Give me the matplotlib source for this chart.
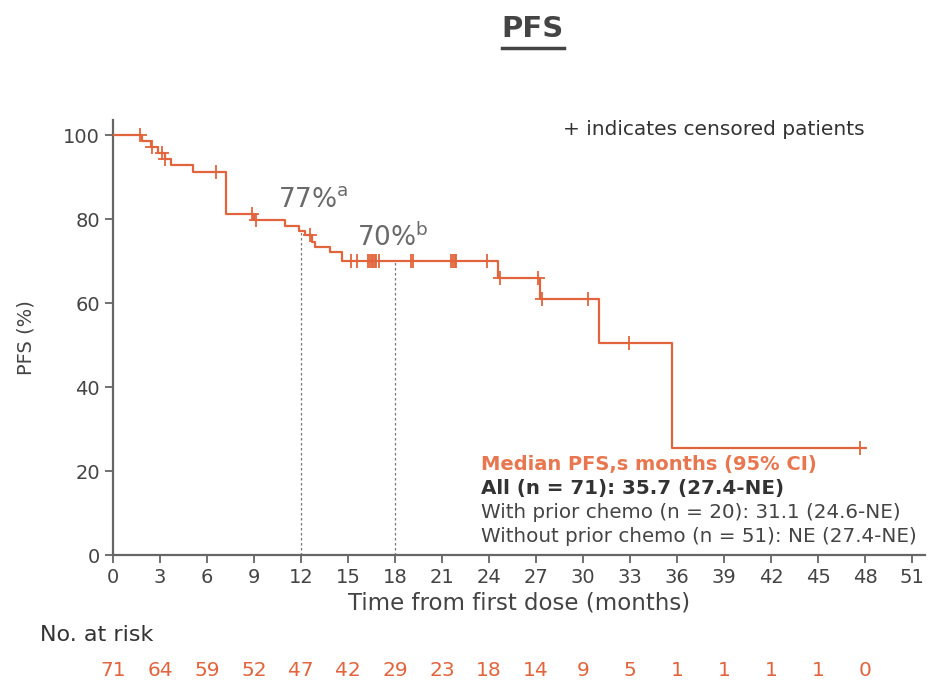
import numpy as np
import matplotlib
matplotlib.use("Agg")
import matplotlib.pyplot as plt
import matplotlib.transforms as mtransforms

plt.rcParams['font.family'] = ['DejaVu Sans']

# Curva de Kaplan-Meier (PFS)
tiempos = [0, 1.85, 2.4, 2.9, 3.3, 3.7, 5.1, 7.2, 9.0, 11.0, 11.9, 12.25, 12.7, 12.9,
           13.85, 14.6, 24.6, 27.25, 31.0, 35.65, 48.0]
pfs = [100, 98.6, 97.2, 95.8, 94.4, 92.9, 91.3, 81.3, 79.8, 78.3, 77.2, 76.1, 74.6, 73.4,
       72.2, 69.9, 66.0, 61.0, 50.6, 25.4, 25.4]

# Pacientes censurados
censurados = [1.7, 2.5, 3.1, 3.35, 6.6, 8.9, 9.1, 12.6, 15.2, 15.55, 16.3, 16.4, 16.5,
              16.6, 16.7, 16.8, 17.0, 19.0, 19.15, 21.6, 21.7, 21.8, 21.9, 23.85, 24.7,
              27.15, 27.35, 30.3, 32.95, 47.7]

# Hitos y numero en riesgo
hitos = [12, 18]
hitos_txt = ["77%", "70%"]
hitos_sup = ["a", "b"]
meses = list(range(0, 52, 3))
en_riesgo = [71, 64, 59, 52, 47, 42, 29, 23, 18, 14, 9, 5, 1, 1, 1, 1, 0]

naranja = "#E2643C"
gris = "#444444"


def pfs_en(t):
    i = np.searchsorted(tiempos, t, side="right") - 1
    return pfs[i]


fig = plt.figure(figsize=(9.33, 6.83), dpi=100)
ax = fig.add_axes([0.1211, 0.1874, 0.870, 0.6364])

ax.step(tiempos, pfs, where="post", color=naranja, lw=1.6, zorder=3)
ax.plot(censurados, [pfs_en(t) for t in censurados], ls="none", marker="+",
        ms=9.5, mew=1.3, color=naranja, zorder=4)

# lineas punteadas a 12 y 18 meses
for h in hitos:
    ax.plot([h, h], [0, pfs_en(h)], color="#777777", lw=0.9, ls=(0, (2, 2)), zorder=2)

ax.text(10.5, 84.5, hitos_txt[0] + r"$^{\mathregular{" + hitos_sup[0] + "}}$",
        fontsize=19, color="#6a6a6a", va="center", ha="left")
ax.text(15.6, 75.5, hitos_txt[1] + r"$^{\mathregular{" + hitos_sup[1] + "}}$",
        fontsize=19, color="#6a6a6a", va="center", ha="left")

ax.set_xlim(0, 51.8)
ax.set_ylim(0, 103.5)
ax.set_xticks(meses)
ax.set_yticks(range(0, 101, 20))
for s in ["top", "right"]:
    ax.spines[s].set_visible(False)
for s in ["left", "bottom"]:
    ax.spines[s].set_color("#666666")
    ax.spines[s].set_linewidth(1.6)
ax.tick_params(axis="both", colors="#666666", width=1.3, length=6,
               labelsize=14, labelcolor="#444444")
ax.set_xlabel("Time from first dose (months)", fontsize=16.5, color="#444444", labelpad=3)
ax.set_ylabel("PFS (%)", fontsize=14, color="#444444", labelpad=20)

# leyenda
ax.text(0.926, 1.0, "+ indicates censored patients", transform=ax.transAxes,
        fontsize=14.5, color="#333333", ha="right", va="top")
x0 = 23.5
ax.text(x0, 21.5, "Median PFS,s months (95% CI)", fontsize=14, color="#E8774F",
        fontweight="bold", va="center")
ax.text(x0, 15.8, "All (n = 71): 35.7 (27.4-NE)", fontsize=14.3, color="#333333",
        fontweight="bold", va="center")
ax.text(x0, 10.1, "With prior chemo (n = 20): 31.1 (24.6-NE)", fontsize=14.3,
        color="#444444", va="center")
ax.text(x0, 4.4, "Without prior chemo (n = 51): NE (27.4-NE)", fontsize=14.3,
        color="#444444", va="center", clip_on=False)

# numero en riesgo
trans = mtransforms.blended_transform_factory(ax.transData, fig.transFigure)
fig.text(0.043, 0.070, "No. at risk", fontsize=16, color="#333333", va="center")
for m, n in zip(meses, en_riesgo):
    ax.text(m, 0.019, str(n), transform=trans, fontsize=14.5, color=naranja,
            ha="center", va="center", clip_on=False)

# titulo subrayado
tit = fig.text(0.571, 0.958, "PFS", fontsize=21, fontweight="bold", color=gris,
               ha="center", va="center")
fig.canvas.draw()
bb = tit.get_window_extent().transformed(fig.transFigure.inverted())
fig.add_artist(plt.Line2D([bb.x0, bb.x1], [bb.y0 - 0.008, bb.y0 - 0.008],
                          transform=fig.transFigure, color=gris, lw=2.5))

fig.savefig("out.png", dpi=100)
